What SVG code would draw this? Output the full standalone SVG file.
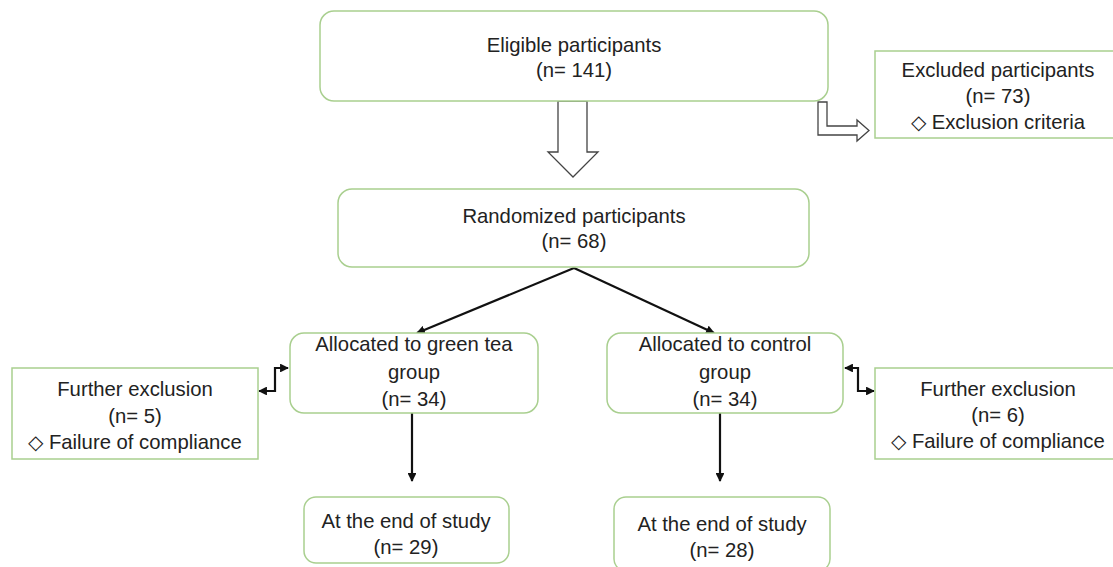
<svg xmlns="http://www.w3.org/2000/svg" width="1113" height="567" viewBox="0 0 1113 567">
<style>
.box{fill:#fff;stroke:#a9cf8f;stroke-width:1.5}
.t{font-family:"Liberation Sans",Arial,sans-serif;font-size:20.3px;fill:#222;text-anchor:middle}
.ln{fill:none;stroke:#111;stroke-width:2.2}
.blk{fill:#fff;stroke:#444;stroke-width:1.3}
</style>
<defs>
<marker id="ah" viewBox="0 0 10 10" refX="9" refY="5" markerWidth="4" markerHeight="4" orient="auto-start-reverse" markerUnits="strokeWidth">
<path d="M0,0 L10,5 L0,10 Z" fill="#111"/>
</marker>
</defs>
<rect width="1113" height="567" fill="#fff"/>
<g id="connectors">
<path class="blk" d="M558,101 V152 H548 L573,177 L598,152 H587 V101 Z"/>
<path class="blk" d="M818,102 V135 H857 V141 L869,130.5 L857,120 V126 H827 V102 Z"/>
<line class="ln" x1="574" y1="268" x2="417" y2="333" marker-end="url(#ah)"/>
<line class="ln" x1="574" y1="268" x2="714" y2="333" marker-end="url(#ah)"/>
<line class="ln" x1="412" y1="413" x2="412" y2="481" marker-end="url(#ah)"/>
<line class="ln" x1="720" y1="413" x2="720" y2="481" marker-end="url(#ah)"/>
<path class="ln" d="M259,391 H275 V368 H288" marker-start="url(#ah)" marker-end="url(#ah)"/>
<path class="ln" d="M845,368 H858 V391 H874" marker-start="url(#ah)" marker-end="url(#ah)"/>
</g>
<g id="eligible">
<rect class="box" x="320" y="11" width="508" height="90" rx="14"/>
<text class="t" x="574" y="52">Eligible participants</text>
<text class="t" x="574" y="77">(n= 141)</text>
</g>
<g id="excluded">
<rect class="box" x="875" y="51" width="246" height="87"/>
<text class="t" x="998" y="77">Excluded participants</text>
<text class="t" x="998" y="103">(n= 73)</text>
<text class="t" x="998" y="129">◇ Exclusion criteria</text>
</g>
<g id="randomized">
<rect class="box" x="338" y="189" width="471" height="78" rx="14"/>
<text class="t" x="574" y="223">Randomized participants</text>
<text class="t" x="574" y="248">(n= 68)</text>
</g>
<g id="greentea">
<rect class="box" x="290" y="333" width="248" height="80" rx="14"/>
<text class="t" x="414" y="351">Allocated to green tea</text>
<text class="t" x="414" y="379">group</text>
<text class="t" x="414" y="406">(n= 34)</text>
</g>
<g id="control">
<rect class="box" x="607" y="333" width="236" height="80" rx="14"/>
<text class="t" x="725" y="351">Allocated to control</text>
<text class="t" x="725" y="379">group</text>
<text class="t" x="725" y="406">(n= 34)</text>
</g>
<g id="further-left">
<rect class="box" x="12" y="368" width="246" height="91"/>
<text class="t" x="135" y="396">Further exclusion</text>
<text class="t" x="135" y="423">(n= 5)</text>
<text class="t" x="135" y="449">◇ Failure of compliance</text>
</g>
<g id="further-right">
<rect class="box" x="875" y="368" width="246" height="91"/>
<text class="t" x="998" y="396">Further exclusion</text>
<text class="t" x="998" y="422">(n= 6)</text>
<text class="t" x="998" y="448">◇ Failure of compliance</text>
</g>
<g id="end-green">
<rect class="box" x="304" y="497" width="205" height="66" rx="12"/>
<text class="t" x="406" y="528">At the end of study</text>
<text class="t" x="406" y="554">(n= 29)</text>
</g>
<g id="end-control">
<rect class="box" x="614" y="497" width="216" height="74" rx="12"/>
<text class="t" x="722" y="531">At the end of study</text>
<text class="t" x="722" y="557">(n= 28)</text>
</g>
</svg>
